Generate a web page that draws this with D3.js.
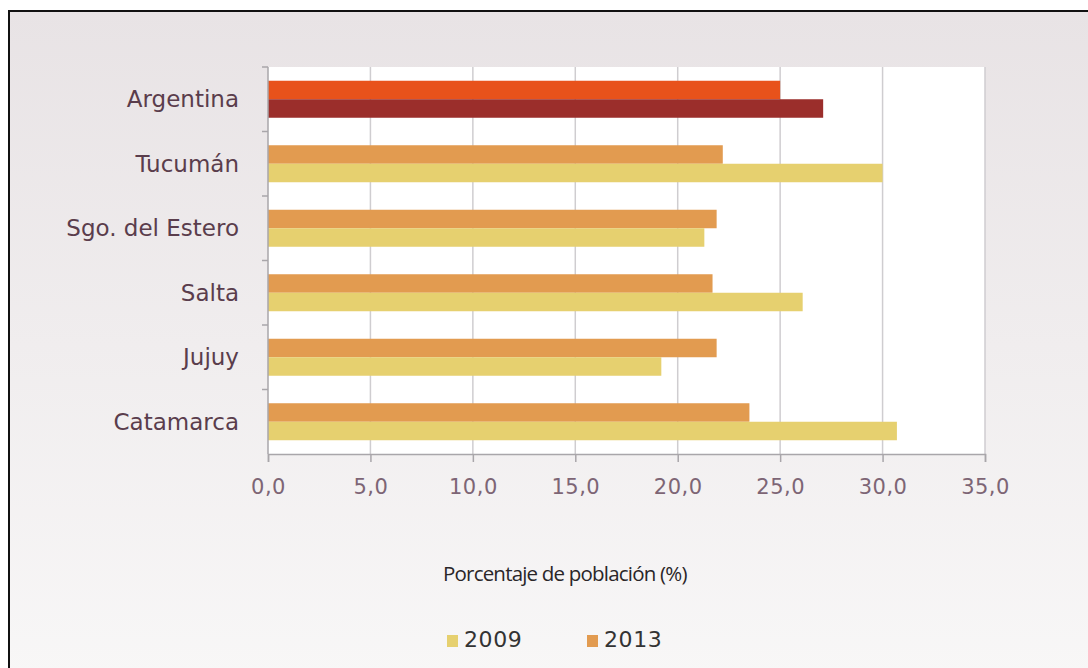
<!DOCTYPE html>
<html>
<head>
<meta charset="utf-8">
<script src="https://cdn.jsdelivr.net/npm/d3@7"></script>
<style>
  body { margin: 0; background: #fff; }
  svg { display: block; }
</style>
</head>
<body>
<div id="chart"></div>
<script>
// data
var categories = ["Argentina", "Tucumán", "Sgo. del Estero", "Salta", "Jujuy", "Catamarca"];
var values2013 = [25.0, 22.2, 21.9, 21.7, 21.9, 23.5];
var values2009 = [27.1, 30.0, 21.3, 26.1, 19.2, 30.7];
var xTicks = [0, 5, 10, 15, 20, 25, 30, 35];
var seriesNames = ["2009", "2013"];

var width = 1088, height = 668;
var plot = { left: 268, right: 985, top: 67, bottom: 454 };
var labelFont = "'DejaVu Sans', Verdana, sans-serif";

var svg = d3.select("#chart").append("svg")
    .attr("width", width)
    .attr("height", height);

// background gradient
var defs = svg.append("defs");
var grad = defs.append("linearGradient")
    .attr("id", "bg").attr("x1", 0).attr("y1", 0).attr("x2", 0).attr("y2", 1);
grad.append("stop").attr("offset", "0%").attr("stop-color", "#e8e3e5");
grad.append("stop").attr("offset", "100%").attr("stop-color", "#f8f7f7");

svg.append("rect")
    .attr("x", 9).attr("y", 11)
    .attr("width", width).attr("height", height)
    .attr("fill", "url(#bg)")
    .attr("stroke", "#111")
    .attr("stroke-width", 2);

var x = d3.scaleLinear().domain([0, 35]).range([plot.left, plot.right]);
var y = d3.scaleBand().domain(categories).range([plot.top, plot.bottom]);
var inner = d3.scaleBand().domain(["2013", "2009"]).range([0, 37]);

// white plot area
svg.append("rect")
    .attr("x", plot.left).attr("y", plot.top)
    .attr("width", plot.right - plot.left)
    .attr("height", plot.bottom - plot.top)
    .attr("fill", "#fff");

// grid lines
svg.append("g").selectAll("line")
    .data(xTicks.slice(1))
    .enter().append("line")
    .attr("x1", function (d) { return x(d); })
    .attr("x2", function (d) { return x(d); })
    .attr("y1", plot.top).attr("y2", plot.bottom)
    .attr("stroke", "#cfcdd0")
    .attr("stroke-width", 1.5);

// bars
var offset = (y.bandwidth() - 37) / 2;
var rows = svg.append("g").selectAll("g")
    .data(categories)
    .enter().append("g")
    .attr("transform", function (d) { return "translate(0," + (y(d) + offset) + ")"; });

rows.append("rect")
    .attr("x", x(0))
    .attr("y", inner("2013"))
    .attr("height", inner.bandwidth())
    .attr("width", function (d, i) { return x(values2013[i]) - x(0); })
    .attr("fill", function (d, i) { return i === 0 ? "#e8521b" : "#e29b50"; });

rows.append("rect")
    .attr("x", x(0))
    .attr("y", inner("2009"))
    .attr("height", inner.bandwidth())
    .attr("width", function (d, i) { return x(values2009[i]) - x(0); })
    .attr("fill", function (d, i) { return i === 0 ? "#9b2e2b" : "#e6d06f"; });

// x axis
var xAxis = svg.append("g")
    .attr("transform", "translate(0," + plot.bottom + ")")
    .call(d3.axisBottom(x).tickValues(xTicks).tickSize(8).tickPadding(17)
        .tickFormat(function (d) { return d3.format(".1f")(d).replace(".", ","); }));
xAxis.select(".domain").attr("stroke", "#a9a6aa").attr("stroke-width", 1.5);
xAxis.selectAll(".tick line").attr("stroke", "#a9a6aa").attr("stroke-width", 1.5);
xAxis.selectAll(".tick text")
    .attr("fill", "#7d6575")
    .style("font-family", labelFont)
    .style("font-size", "21px")
    .style("letter-spacing", "0.5px");

// y axis with ticks at band boundaries
svg.append("line")
    .attr("x1", plot.left).attr("x2", plot.left)
    .attr("y1", plot.top).attr("y2", plot.bottom)
    .attr("stroke", "#a9a6aa").attr("stroke-width", 1.5);
svg.append("g").selectAll("line")
    .data(categories)
    .enter().append("line")
    .attr("x1", plot.left - 6).attr("x2", plot.left)
    .attr("y1", function (d) { return y(d); })
    .attr("y2", function (d) { return y(d); })
    .attr("stroke", "#a9a6aa").attr("stroke-width", 1.5);

svg.append("g").selectAll("text")
    .data(categories)
    .enter().append("text")
    .attr("x", 239)
    .attr("y", function (d) { return y(d) + y.bandwidth() / 2; })
    .attr("dy", "0.35em")
    .attr("text-anchor", "end")
    .attr("fill", "#5a3d4c")
    .style("font-family", labelFont)
    .style("font-size", "23px")
    .text(function (d) { return d; });

// axis title
svg.append("text")
    .attr("x", 443).attr("y", 581)
    .attr("fill", "#2a2628")
    .style("font-family", "'Open Sans', sans-serif")
    .style("font-size", "20.5px")
    .style("letter-spacing", "-0.8px")
    .text("Porcentaje de población (%)");

// legend
var legendColors = ["#e6d06f", "#e29b50"];
var legend = svg.append("g").selectAll("g")
    .data(seriesNames)
    .enter().append("g")
    .attr("transform", function (d, i) { return "translate(" + (447 + i * 140) + ",635)"; });
legend.append("rect")
    .attr("width", 11).attr("height", 12)
    .attr("fill", function (d, i) { return legendColors[i]; });
legend.append("text")
    .attr("x", 17).attr("y", 12)
    .attr("fill", "#333")
    .style("font-family", labelFont)
    .style("font-size", "22px")
    .style("letter-spacing", "0.6px")
    .text(function (d) { return d; });
</script>
</body>
</html>
